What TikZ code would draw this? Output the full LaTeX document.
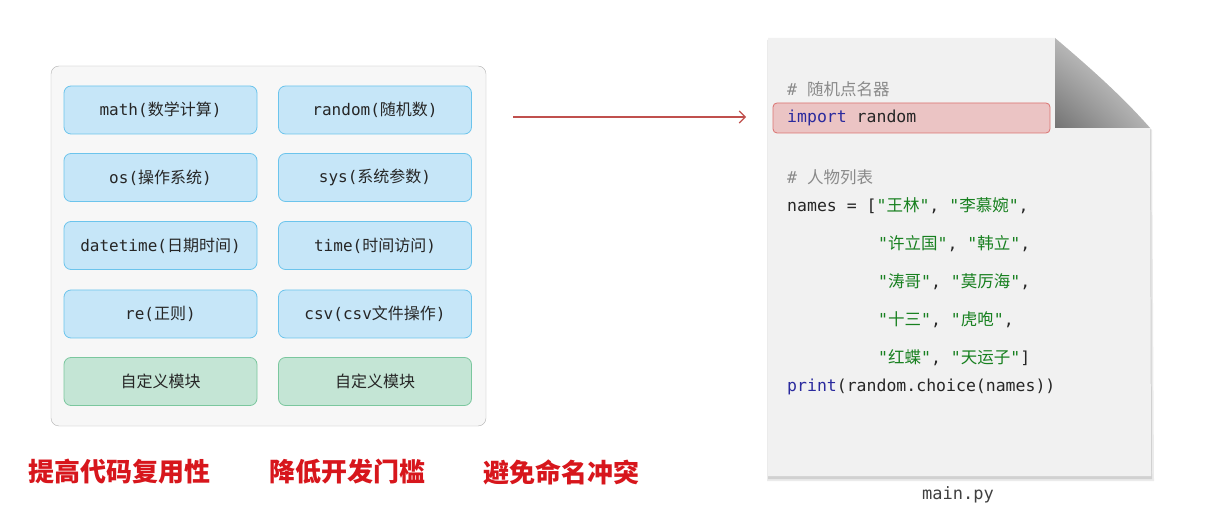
\documentclass[tikz,border=0pt]{standalone}
\usepackage{fontspec}
\setmonofont{DejaVu Sans Mono}
\newfontfamily\cjk{Noto Sans CJK SC}
\newcommand{\zh}[1]{{\cjk #1}}
\usetikzlibrary{arrows.meta,shadings}
\definecolor{modblue}{HTML}{C6E6F8}
\definecolor{modblueline}{HTML}{6CC4EC}
\definecolor{modgreen}{HTML}{C4E5D5}
\definecolor{modgreenline}{HTML}{7BC79E}
\definecolor{pagegray}{HTML}{F1F1F1}
\definecolor{hlred}{HTML}{EBC4C4}
\definecolor{hlredline}{HTML}{DB7371}
\definecolor{kwblue}{HTML}{2A2A9E}
\definecolor{strgreen}{HTML}{17801F}
\definecolor{cmtgray}{HTML}{8A8A8A}
\definecolor{tagred}{HTML}{D7161C}
\definecolor{arrred}{HTML}{C0504D}
\tikzset{
  modbox/.style={draw=modblueline, fill=modblue, thick, rounded corners=7pt,
    minimum width=193pt, minimum height=48pt, text=black!85,
    font=\ttfamily\fontsize{16}{18}\selectfont},
  ownbox/.style={modbox, draw=modgreenline, fill=modgreen},
  codeline/.style={anchor=west, inner sep=0pt, text=black!85,
    font=\ttfamily\fontsize{16.5}{20}\selectfont},
  tagline/.style={text=tagred, font=\cjk\bfseries\fontsize{26}{28}\selectfont}
}
\newcommand{\s}[1]{\textcolor{strgreen}{"\zh{#1}"}}
\begin{document}
\begin{tikzpicture}[x=1pt, y=-1pt]
      \useasboundingbox (0,0) rectangle (1210,510);
      \node[draw=black!30, fill=black!3, rounded corners=8pt, minimum width=435pt,
        minimum height=360pt] (libs) at (268.5,246) {};
      \node[modbox] (math) at (160.5,110) {math(\zh{数学计算})};
      \node[modbox] (random) at (375,110) {random(\zh{随机数})};
      \node[modbox] (os) at (160.5,177.5) {os(\zh{操作系统})};
      \node[modbox] (sys) at (375,177.5) {sys(\zh{系统参数})};
      \node[modbox] (datetime) at (160.5,245.5) {datetime(\zh{日期时间})};
      \node[modbox] (time) at (375,245.5) {time(\zh{时间访问})};
      \node[modbox] (re) at (160.5,314) {re(\zh{正则})};
      \node[modbox] (csv) at (375,314) {csv(csv\zh{文件操作})};
      \node[ownbox] (own1) at (160.5,381.5) {\zh{自定义模块}};
      \node[ownbox] (own2) at (375,381.5) {\zh{自定义模块}};

      \coordinate (arrstart) at (513,117);
      \coordinate (arrend) at (746,117);
      \draw[arrred, line width=1.1pt, -{Straight Barb[length=6pt,width=12pt]}] (arrstart) -- (arrend);

      \fill[black!8] (767,40) -- (1056,40) .. controls (1090,68) and (1124,98) .. (1152,130)
        -- (1154,481) -- (767,481) -- cycle;
      \fill[black!18] (768,42) -- (1056,42) .. controls (1090,70) and (1124,99) .. (1151,130)
        -- (1152,479) -- (768,479) -- cycle;
      \fill[pagegray] (768,38) -- (1055,38) .. controls (1088,66) and (1122,96) .. (1150,128)
        -- (1151,476) -- (768,476) -- cycle;
      \shade[upper left=black!28, upper right=black!10, lower left=black!55, lower right=black!30]
        (1055,38) .. controls (1088,66) and (1122,96) .. (1150,128) -- (1055,128) -- cycle;
      \draw[hlredline, fill=hlred, thick, rounded corners=4pt] (773,103) rectangle (1050,133);

      \node[codeline, text=cmtgray] (cmt1) at (787,89) {\#~\zh{随机点名器}};
      \node[codeline] (imp) at (787,118) {\textcolor{kwblue}{import} random};
      \node[codeline, text=cmtgray] (cmt2) at (787,177) {\#~\zh{人物列表}};
      \node[codeline] (names1) at (787,206) {names = [\s{王林}, \s{李慕婉},};
      \node[codeline] (names2) at (878,244) {\s{许立国}, \s{韩立},};
      \node[codeline] (names3) at (878,282) {\s{涛哥}, \s{莫厉海},};
      \node[codeline] (names4) at (878,320) {\s{十三}, \s{虎咆},};
      \node[codeline] (names5) at (878,358) {\s{红蝶}, \s{天运子}]};
      \node[codeline] (prt) at (787,387) {\textcolor{kwblue}{print}(random.choice(names))};
      \node[text=black!75, font=\ttfamily\fontsize{17}{20}\selectfont] (file) at (958,495) {main.py};

      \node[tagline] (reuse) at (119,472) {提高代码复用性};
      \node[tagline] (easy) at (347,472) {降低开发门槛};
      \node[tagline] (clash) at (561,472) {避免命名冲突};
\end{tikzpicture}
\end{document}
